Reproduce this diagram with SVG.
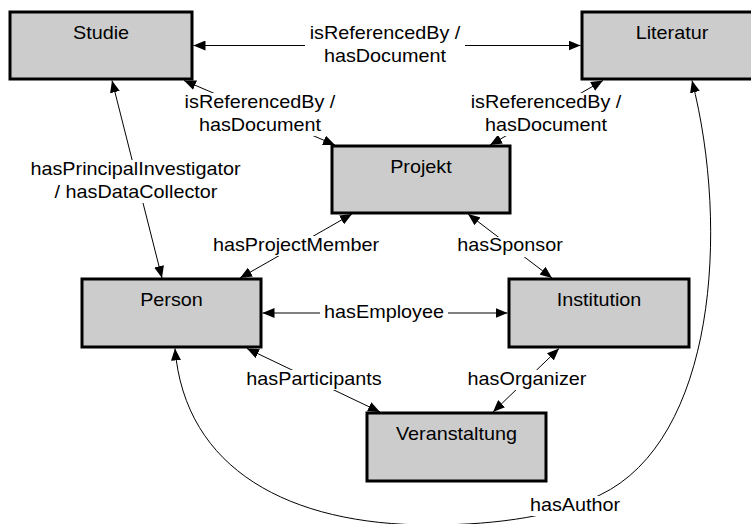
<svg xmlns="http://www.w3.org/2000/svg" width="751" height="524" viewBox="0 0 751 524">
<style>
.box{fill:#cccccc;stroke:#000;stroke-width:3}
.t{font-family:"Liberation Sans",Arial,sans-serif;font-size:18px;text-anchor:middle;fill:#000;transform-box:fill-box;transform-origin:center;transform:scaleX(1.1)}
.c{fill:none;stroke:#000;stroke-width:1;marker-start:url(#ah);marker-end:url(#ah)}
.bg{fill:#fff;stroke:none}
</style>
<defs>
<marker id="ah" viewBox="0 0 12 10" refX="12" refY="5" markerWidth="12" markerHeight="10" markerUnits="userSpaceOnUse" orient="auto-start-reverse">
<path d="M0,0 L12,5 L0,10 z" fill="#000"/>
</marker>
</defs>
<rect width="751" height="524" fill="#fff"/>
<g id="connectors">
<path class="c" d="M193.5,45.5 L580.5,45.5"/>
<path class="c" d="M184,80.5 L335,145"/>
<path class="c" d="M490,145 L603,80.5"/>
<path class="c" d="M112,80.5 L162,278"/>
<path class="c" d="M240,278 L352,214"/>
<path class="c" d="M468,214 L552,278"/>
<path class="c" d="M262.5,313 L507.5,313"/>
<path class="c" d="M247,348.5 L380,412"/>
<path class="c" d="M559,348.5 L493,412"/>
<path class="c" d="M175,348.5 C185,470 290,525 430,525 C500,525 560,515 600,495 C715,440 730,230 692,80.5"/>
<g id="labels">
<rect class="bg" x="305" y="24" width="160" height="44"/>
<text class="t" x="385" y="39">isReferencedBy /</text>
<text class="t" x="385" y="62">hasDocument</text>
<rect class="bg" x="183" y="93" width="155" height="43"/>
<text class="t" x="260" y="108">isReferencedBy /</text>
<text class="t" x="260" y="131">hasDocument</text>
<rect class="bg" x="468" y="93" width="156" height="43"/>
<text class="t" x="546" y="108">isReferencedBy /</text>
<text class="t" x="546" y="131">hasDocument</text>
<rect class="bg" x="27" y="160" width="217" height="43"/>
<text class="t" x="135.5" y="175.5">hasPrincipalInvestigator</text>
<text class="t" x="136" y="198">/ hasDataCollector</text>
<rect class="bg" x="211" y="236" width="171" height="20"/>
<text class="t" x="296" y="251">hasProjectMember</text>
<rect class="bg" x="455" y="237" width="110" height="20"/>
<text class="t" x="510" y="251.5">hasSponsor</text>
<rect class="bg" x="320" y="303" width="128" height="20"/>
<text class="t" x="384" y="318">hasEmployee</text>
<rect class="bg" x="244" y="370" width="140" height="20"/>
<text class="t" x="314" y="385">hasParticipants</text>
<rect class="bg" x="466" y="370" width="123" height="20"/>
<text class="t" x="527" y="385">hasOrganizer</text>
<rect class="bg" x="528" y="496" width="95" height="20"/>
<text class="t" x="575" y="511">hasAuthor</text>
</g>
</g>
<g id="studie"><rect class="box" x="10" y="12" width="182" height="67"/><text class="t" x="101" y="39.5">Studie</text></g>
<g id="literatur"><rect class="box" x="582" y="12" width="181" height="67"/><text class="t" x="672" y="39.5">Literatur</text></g>
<g id="projekt"><rect class="box" x="332" y="146" width="178" height="67"/><text class="t" x="421" y="173.5">Projekt</text></g>
<g id="person"><rect class="box" x="82" y="279" width="179" height="68"/><text class="t" x="171.5" y="306.5">Person</text></g>
<g id="institution"><rect class="box" x="509" y="279" width="180" height="68"/><text class="t" x="599" y="306.5">Institution</text></g>
<g id="veranstaltung"><rect class="box" x="367" y="413" width="179" height="68"/><text class="t" x="456.5" y="440.5">Veranstaltung</text></g>
</svg>
